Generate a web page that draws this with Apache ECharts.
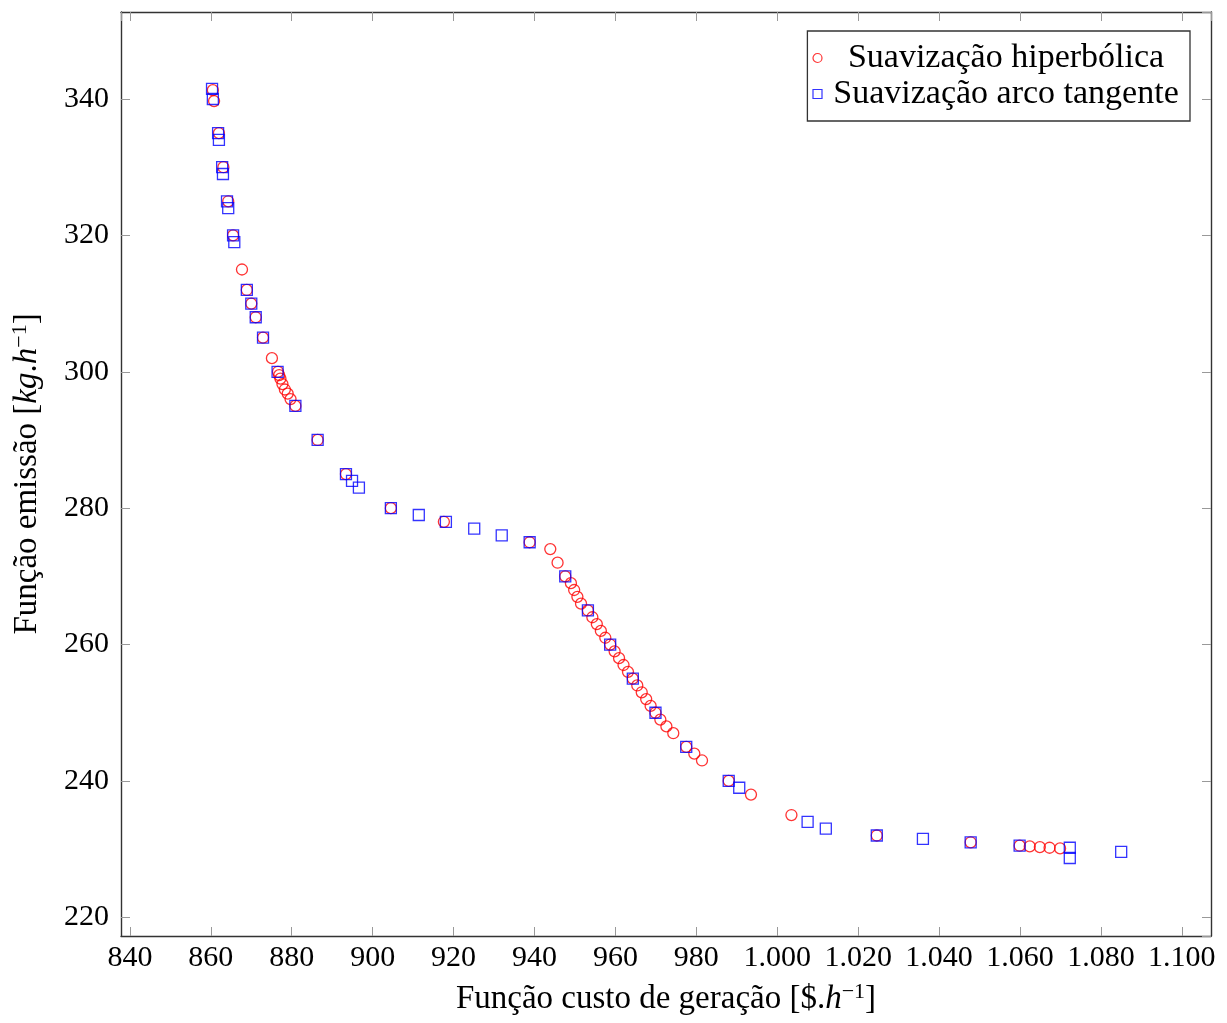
<!DOCTYPE html>
<html>
<head>
<meta charset="utf-8">
<script src="https://cdn.jsdelivr.net/npm/echarts@6/dist/echarts.min.js"></script>
<style>
  html, body { margin: 0; padding: 0; background: #fff; }
  #main { width: 1227px; height: 1023px; }
</style>
</head>
<body>
<div id="main"></div>
<script>
// Suavização hiperbólica (red circles)
var hyperX = [860.5, 860.8, 862.0, 863.1, 864.3, 865.5, 867.7, 868.9, 870.0, 871.1,
              872.9, 875.1, 876.6, 876.9, 877.2, 877.7, 878.3, 879.0, 879.7, 880.9,
              886.4, 893.4, 904.5, 917.6, 938.8, 943.9, 945.7, 947.6, 949.0, 949.8,
              950.6, 951.5, 953.2, 954.3, 955.4, 956.4, 957.5, 958.7, 959.8, 960.9,
              962.0, 963.1, 964.3, 965.4, 966.5, 967.6, 968.7, 969.9, 971.1, 972.6,
              974.3, 977.5, 979.5, 981.4, 988.0, 993.5, 1003.5, 1024.6, 1047.8, 1059.9,
              1062.4, 1064.9, 1067.3, 1069.9];
var hyperY = [341.3, 339.7, 335, 330, 325, 320, 315, 312, 310, 308,
              305, 302, 300, 299.5, 299, 298.2, 297.4, 296.8, 296, 295,
              290, 285, 280, 278, 275, 274, 272, 270, 269, 268,
              267, 266, 265, 264, 263, 262, 261, 260, 259, 258,
              257, 256, 255, 254, 253, 252, 251, 250, 249, 248,
              247, 245, 244, 243, 240, 238, 235, 232, 231, 230.5,
              230.4, 230.3, 230.2, 230.1];

// Suavização arco tangente (blue squares)
var tanX = [860.3, 860.5, 861.8, 862.0, 862.8, 863.0, 864.0, 864.3, 865.5, 865.8,
            868.9, 870.0, 871.1, 872.9, 876.5, 880.9, 886.4, 893.4, 894.9, 896.6,
            904.5, 911.4, 918.1, 925.1, 931.9, 938.8, 947.6, 953.2, 958.7, 964.3,
            969.9, 977.5, 988.0, 990.6, 1007.5, 1012.0, 1024.6, 1036.0, 1047.8, 1059.9,
            1072.3, 1072.3, 1085.0];
var tanY = [341.5, 340, 335, 334, 330, 329, 325, 324, 320, 319,
            312, 310, 308, 305, 300, 295, 290, 285, 284, 283,
            280, 279, 278, 277, 276, 275, 270, 265, 260, 255,
            250, 245, 240, 239, 234, 233, 232, 231.5, 231, 230.5,
            230.2, 228.7, 229.6];

var seriesNames = ['Suavização hiperbólica', 'Suavização arco tangente'];

var FONT = '"Liberation Serif", "DejaVu Serif", serif';

function pairs(xs, ys){
    var out = [];
    for (var i = 0; i < xs.length; i++){
        out.push([xs[i], ys[i]]);
    }
    return out;
}

//Tick labels use a dot as thousands separator (1.000, 1.020, ...)
function fmtX(v){
    if (Math.abs(v % 20) > 1e-6) return '';
    if (v >= 1000){
        var r = String(Math.round(v % 1000));
        while (r.length < 3) r = '0' + r;
        return Math.floor(v / 1000) + '.' + r;
    }
    return String(Math.round(v));
}
function fmtY(v){
    if (Math.abs(v % 20) > 1e-6) return '';
    return String(Math.round(v));
}

var xMin = 837.8, xMax = 1107.2;
var yMin = 217.26, yMax = 352.76;

function frameAxis(pos, isX, showLabels){
    var a = {
        type: 'value',
        position: pos,
        min: isX ? xMin : yMin,
        max: isX ? xMax : yMax,
        splitNumber: isX ? 13 : 7,
        minInterval: 20,
        maxInterval: 20,
        axisLine: { show: true, onZero: false, lineStyle: { color: '#333', width: 1.4 } },
        axisTick: { show: true, inside: true, length: 9, lineStyle: { color: '#999', width: 1 } },
        splitLine: { show: false },
        axisLabel: { show: false }
    };
    if (showLabels){
        a.axisLabel = {
            show: true,
            showMinLabel: false,
            showMaxLabel: false,
            formatter: isX ? fmtX : fmtY,
            color: '#000',
            fontFamily: FONT,
            fontSize: 30,
            margin: isX ? 7 : 12
        };
    }
    return a;
}

var nameStyle = {
    color: '#000', fontFamily: FONT, fontSize: 33,
    rich: {
        it:  { fontFamily: FONT, fontSize: 33, fontStyle: 'italic', color: '#000' },
        sup: { fontFamily: FONT, fontSize: 22, color: '#000', padding: [0, 0, 15, 0] }
    }
};

var xBottom = frameAxis('bottom', true, true);
xBottom.name = 'Função custo de geração [$.{it|h}{sup|−1}]';
xBottom.nameLocation = 'middle';
xBottom.nameGap = 45;
xBottom.nameTextStyle = nameStyle;

var yLeft = frameAxis('left', false, true);
yLeft.name = 'Função emissão [{it|kg}.{it|h}{sup|−1}]';
yLeft.nameLocation = 'middle';
yLeft.nameRotate = 90;
yLeft.nameGap = 75;
yLeft.nameTextStyle = nameStyle;

var option = {
    animation: false,
    backgroundColor: '#fff',
    grid: {
        left: 121, right: 16, top: 12, bottom: 87,
        containLabel: false,
        outerBoundsMode: 'none'
    },
    legend: {
        orient: 'vertical',
        right: 37,
        top: 31,
        padding: [10, 5, 10, 5],
        itemGap: 2,
        itemWidth: 9,
        itemHeight: 9,
        borderColor: '#333',
        borderWidth: 1.3,
        backgroundColor: '#fff',
        formatter: function(name){ return '{c|' + name + '}'; },
        textStyle: {
            color: '#000',
            fontFamily: FONT,
            fontSize: 34,
            rich: {
                c: { fontFamily: FONT, fontSize: 34, width: 358, align: 'center', lineHeight: 32, color: '#000' }
            }
        },
        data: [
            { name: seriesNames[0], icon: 'circle',
              itemStyle: { color: 'rgba(0,0,0,0)', borderColor: '#ff0000', borderWidth: 1.2 } },
            { name: seriesNames[1], icon: 'rect',
              itemStyle: { color: 'rgba(0,0,0,0)', borderColor: '#0000ff', borderWidth: 1.2 } }
        ]
    },
    xAxis: [xBottom, frameAxis('top', true, false)],
    yAxis: [yLeft, frameAxis('right', false, false)],
    series: [
        {
            name: seriesNames[0],
            type: 'scatter',
            symbol: 'circle',
            symbolSize: 11,
            itemStyle: { color: 'rgba(0,0,0,0)', borderColor: '#ff0000', borderWidth: 1.3 },
            data: pairs(hyperX, hyperY)
        },
        {
            name: seriesNames[1],
            type: 'scatter',
            symbol: 'rect',
            symbolSize: 11,
            itemStyle: { color: 'rgba(0,0,0,0)', borderColor: '#0000ff', borderWidth: 1.3 },
            data: pairs(tanX, tanY)
        }
    ]
};

var chart = echarts.init(document.getElementById('main'));
chart.setOption(option);
</script>
</body>
</html>
